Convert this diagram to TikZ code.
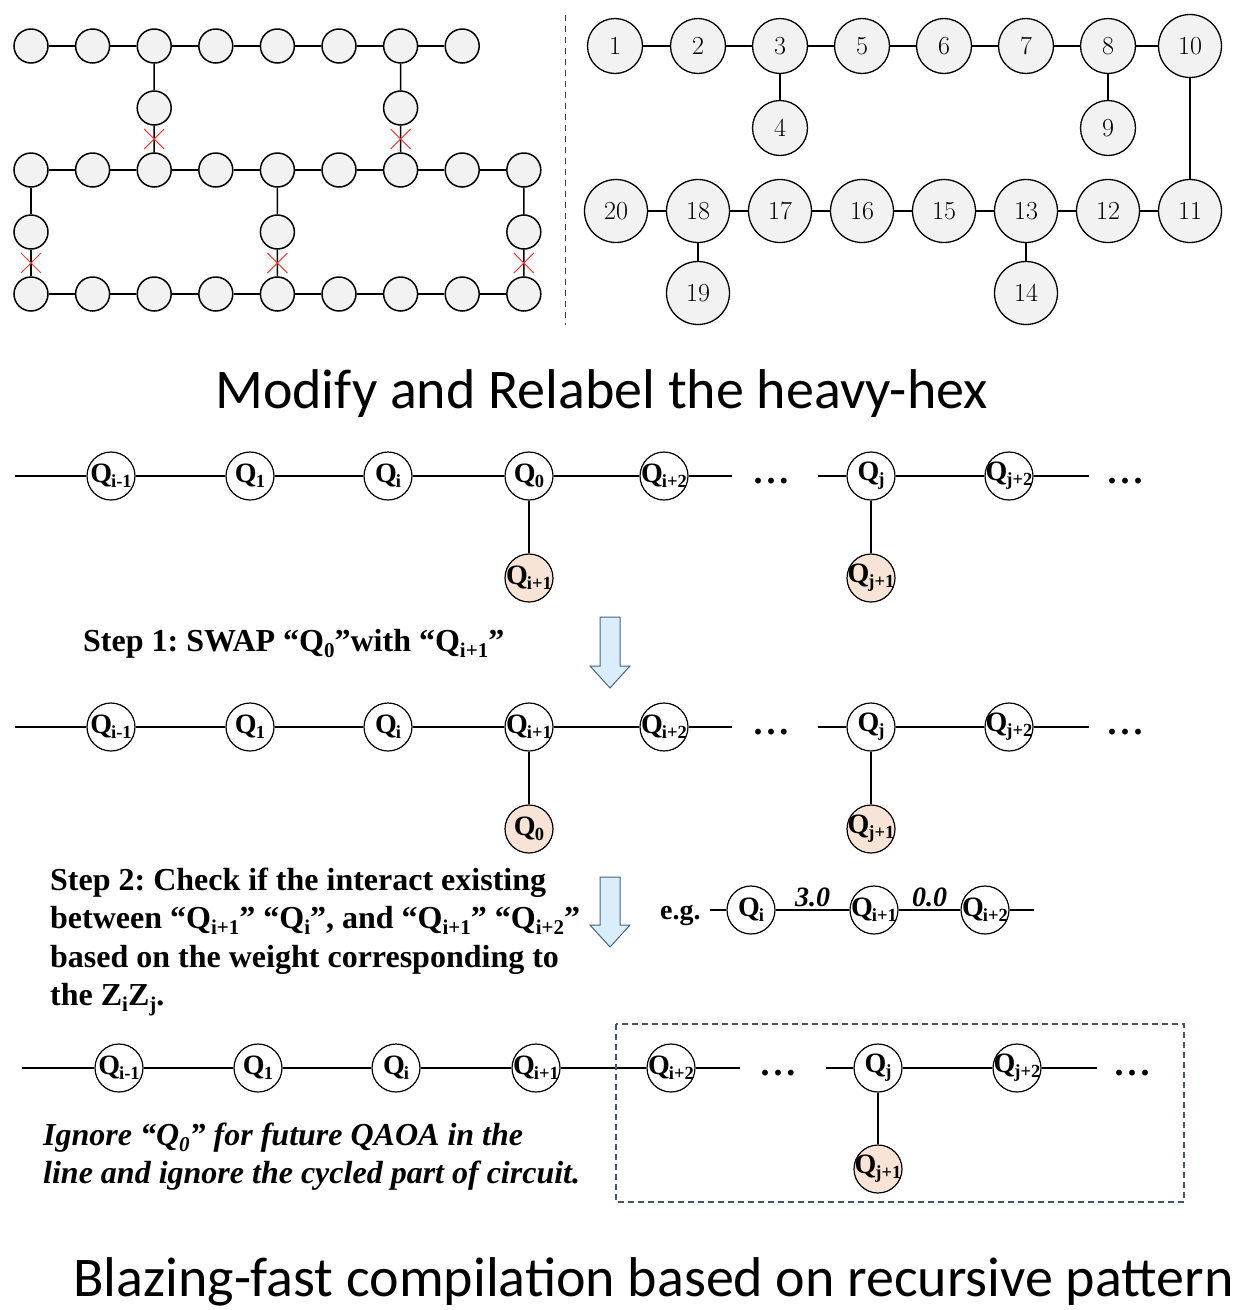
\documentclass[tikz,border=0pt]{standalone}
\usepackage{fontspec}
\newfontfamily\tnr{Liberation Serif}
\newfontfamily\calfont{Carlito}
\usetikzlibrary{calc,shapes.misc}
\frenchspacing
\definecolor{hexgray}{RGB}{242,242,242}
\definecolor{peach}{RGB}{248,228,214}
\definecolor{arrfill}{RGB}{218,237,250}
\definecolor{arrdraw}{RGB}{72,100,128}
\definecolor{boxdash}{RGB}{68,84,106}
\definecolor{xred}{RGB}{232,64,58}
\newcommand\Ql[1]{\makebox[0pt]{Q\kern-1pt\raisebox{-5pt}{\fontsize{18.5}{18.5}\selectfont #1}}}
\newcommand\Sa[1]{\raisebox{-6pt}{\fontsize{21}{21}\selectfont #1}}
\tikzset{
  hexn/.style={circle, draw=black, fill=hexgray, line width=1.5pt, minimum size=34pt, inner sep=0pt},
  numn/.style={circle, draw=black, fill=hexgray, line width=1.3pt, minimum size=55pt, inner sep=0pt, font=\fontsize{26}{26}\selectfont},
  numw/.style={numn, minimum size=63pt},
  qn/.style={circle, draw=black, fill=white, line width=1.2pt, minimum size=48pt, inner sep=0pt, font=\tnr\bfseries\fontsize{28}{28}\selectfont},
  qp/.style={qn, fill=peach},
  hedge/.style={line width=1.5pt},
  qedge/.style={line width=1.2pt},
  xmark/.style={cross out, draw=xred, line width=1pt, minimum size=19pt, inner sep=0pt},
  steptxt/.style={anchor=base west, inner sep=0pt, font=\tnr\bfseries\fontsize{32}{32}\selectfont},
  itxt/.style={anchor=base west, inner sep=0pt, font=\tnr\bfseries\itshape\fontsize{32}{32}\selectfont},
  dots/.style={anchor=base, inner sep=0pt, font=\tnr\bfseries\fontsize{36}{36}\selectfont},
  wlab/.style={anchor=base, inner sep=0pt, font=\tnr\bfseries\itshape\fontsize{28}{28}\selectfont},
  title/.style={anchor=base, inner sep=0pt, font=\calfont\fontsize{56}{60}\selectfont},
  bigarrow/.style={draw=arrdraw, fill=arrfill, line width=1pt, line join=miter}
}
\newcommand\tdots{.\kern4pt.\kern4pt.}
\begin{document}
\begin{tikzpicture}[x=1pt,y=-1pt]
\path[use as bounding box] (0,0) rectangle (1238,1310);

% ---------- heavy-hex (top left) ----------
\foreach \c in {1,...,8} \node[hexn] (h1\c) at ({31+(\c-1)*61.6},46) {};
\foreach \c in {1,...,9} \node[hexn] (h2\c) at ({31+(\c-1)*61.6},170) {};
\foreach \c in {1,...,9} \node[hexn] (h3\c) at ({31+(\c-1)*61.6},294) {};
\node[hexn] (v1) at (154.2,108) {};
\node[hexn] (v2) at (400.6,108) {};
\node[hexn] (v3) at (31,232) {};
\node[hexn] (v4) at (277.4,232) {};
\node[hexn] (v5) at (523.8,232) {};
\foreach \c [count=\n from 2] in {1,...,7} \draw[hedge] (h1\c) -- (h1\n);
\foreach \c [count=\n from 2] in {1,...,8} \draw[hedge] (h2\c) -- (h2\n);
\foreach \c [count=\n from 2] in {1,...,8} \draw[hedge] (h3\c) -- (h3\n);
\draw[hedge] (h13) -- (v1) -- (h23);
\draw[hedge] (h17) -- (v2) -- (h27);
\draw[hedge] (h21) -- (v3) -- (h31);
\draw[hedge] (h25) -- (v4) -- (h35);
\draw[hedge] (h29) -- (v5) -- (h39);
\node[xmark] (x1) at ($(v1)!0.5!(h23)$) {};
\node[xmark] (x2) at ($(v2)!0.5!(h27)$) {};
\node[xmark] (x3) at ($(v3)!0.5!(h31)$) {};
\node[xmark] (x4) at ($(v4)!0.5!(h35)$) {};
\node[xmark] (x5) at ($(v5)!0.5!(h39)$) {};

% separator
\coordinate (sepA) at (565,15);
\coordinate (sepB) at (565,325);
\draw[black!75, line width=1pt, dash pattern=on 6pt off 5pt] (sepA) -- (sepB);

% ---------- relabeled graph (top right) ----------
\node[numn] (n1) at (615,46) {1};
\node[numn] (n2) at (698,46) {2};
\node[numn] (n3) at (780,46) {3};
\node[numn] (n5) at (862,46) {5};
\node[numn] (n6) at (944,46) {6};
\node[numn] (n7) at (1026,46) {7};
\node[numn] (n8) at (1108,46) {8};
\node[numw] (n10) at (1190,46) {10};
\node[numn] (n4) at (780,128) {4};
\node[numn] (n9) at (1108,128) {9};
\node[numw] (n20) at (616,211) {20};
\node[numw] (n18) at (698,211) {18};
\node[numw] (n17) at (780,211) {17};
\node[numw] (n16) at (862,211) {16};
\node[numw] (n15) at (944,211) {15};
\node[numw] (n13) at (1026,211) {13};
\node[numw] (n12) at (1108,211) {12};
\node[numw] (n11) at (1190,211) {11};
\node[numw] (n19) at (698,293) {19};
\node[numw] (n14) at (1026,293) {14};
\draw[hedge] (n1) -- (n2) -- (n3) -- (n5) -- (n6) -- (n7) -- (n8) -- (n10) -- (n11) -- (n12) -- (n13) -- (n15) -- (n16) -- (n17) -- (n18) -- (n20);
\draw[hedge] (n3) -- (n4);
\draw[hedge] (n8) -- (n9);
\draw[hedge] (n18) -- (n19);
\draw[hedge] (n13) -- (n14);

\node[title] (t1) at (601.5,408) {Modify and Relabel the heavy-hex};

% ---------- row 1 ----------
\coordinate (a0) at (15,476);
\node[qn] (a1) at (111,476) {\Ql{i-1}};
\node[qn] (a2) at (250,476) {\Ql{1}};
\node[qn] (a3) at (388,476) {\Ql{i}};
\node[qn] (a4) at (529,476) {\Ql{0}};
\node[qn] (a5) at (664,476) {\Ql{i+2}};
\coordinate (ae1) at (732,476);
\node[dots] (ad1) at (771,483) {\tdots};
\coordinate (as2) at (818,476);
\node[qn] (a6) at (871,476) {\Ql{j}};
\node[qn] (a7) at (1009,476) {\Ql{j+2}};
\coordinate (ae2) at (1089,476);
\node[dots] (ad2) at (1125,483) {\tdots};
\node[qp] (a8) at (529,578) {\Ql{i+1}};
\node[qp] (a9) at (871,578) {\Ql{j+1}};
\draw[qedge] (a0) -- (a1) -- (a2) -- (a3) -- (a4) -- (a5) -- (ae1);
\draw[qedge] (as2) -- (a6) -- (a7) -- (ae2);
\draw[qedge] (a4) -- (a8);
\draw[qedge] (a6) -- (a9);

% step 1
\node[steptxt] (s1) at (83,651) {Step 1: SWAP “Q\Sa{0}”with “Q\Sa{i+1}”};
\draw[bigarrow] (600,617) -- (620,617) -- (620,666) -- (630,666) -- (610,688) -- (590,666) -- (600,666) -- cycle;

% ---------- row 2 ----------
\coordinate (b0) at (15,727);
\node[qn] (b1) at (111,727) {\Ql{i-1}};
\node[qn] (b2) at (250,727) {\Ql{1}};
\node[qn] (b3) at (388,727) {\Ql{i}};
\node[qn] (b4) at (529,727) {\Ql{i+1}};
\node[qn] (b5) at (664,727) {\Ql{i+2}};
\coordinate (be1) at (732,727);
\node[dots] (bd1) at (771,734) {\tdots};
\coordinate (bs2) at (818,727);
\node[qn] (b6) at (871,727) {\Ql{j}};
\node[qn] (b7) at (1009,727) {\Ql{j+2}};
\coordinate (be2) at (1089,727);
\node[dots] (bd2) at (1125,734) {\tdots};
\node[qp] (b8) at (529,829) {\Ql{0}};
\node[qp] (b9) at (871,829) {\Ql{j+1}};
\draw[qedge] (b0) -- (b1) -- (b2) -- (b3) -- (b4) -- (b5) -- (be1);
\draw[qedge] (bs2) -- (b6) -- (b7) -- (be2);
\draw[qedge] (b4) -- (b8);
\draw[qedge] (b6) -- (b9);

% step 2
\node[steptxt] (s2a) at (50,890) {Step 2: Check if the interact existing};
\node[steptxt] (s2b) at (50,928.5) {between “Q\Sa{i+1}” “Q\Sa{i}”, and “Q\Sa{i+1}” “Q\Sa{i+2}”};
\node[steptxt] (s2c) at (50,967) {based on the weight corresponding to};
\node[steptxt] (s2d) at (50,1005.5) {the Z\Sa{i}Z\Sa{j}.};
\draw[bigarrow] (600,877) -- (620,877) -- (620,925) -- (630,925) -- (610,947) -- (590,925) -- (600,925) -- cycle;

% e.g.
\node[steptxt, font=\tnr\bfseries\fontsize{28}{28}\selectfont] (eg) at (660,919) {e.g.};
\coordinate (e0) at (710,910);
\node[qn] (e1) at (751,910) {\Ql{i}};
\node[qn] (e2) at (874,910) {\Ql{i+1}};
\node[qn] (e3) at (985,910) {\Ql{i+2}};
\coordinate (e4) at (1034,910);
\draw[qedge] (e0) -- (e1) -- node[wlab, pos=0.5, yshift=4pt] (w1) {3.0} (e2) -- node[wlab, pos=0.5, yshift=4pt] (w2) {0.0} (e3) -- (e4);

% ---------- row 3 ----------
\coordinate (c0) at (22,1068);
\node[qn] (c1) at (119,1068) {\Ql{i-1}};
\node[qn] (c2) at (258,1068) {\Ql{1}};
\node[qn] (c3) at (396,1068) {\Ql{i}};
\node[qn] (c4) at (536,1068) {\Ql{i+1}};
\node[qn] (c5) at (671,1068) {\Ql{i+2}};
\coordinate (ce1) at (740,1068);
\node[dots] (cd1) at (778,1075) {\tdots};
\coordinate (cs2) at (826,1068);
\node[qn] (c6) at (878,1068) {\Ql{j}};
\node[qn] (c7) at (1017,1068) {\Ql{j+2}};
\coordinate (ce2) at (1097,1068);
\node[dots] (cd2) at (1132,1075) {\tdots};
\node[qp] (c8) at (878,1169) {\Ql{j+1}};
\draw[qedge] (c0) -- (c1) -- (c2) -- (c3) -- (c4) -- (c5) -- (ce1);
\draw[qedge] (cs2) -- (c6) -- (c7) -- (ce2);
\draw[qedge] (c6) -- (c8);
\draw[boxdash, line width=1.2pt, dash pattern=on 6pt off 4pt] (616,1024) rectangle (1184,1202);

\node[itxt] (ig1) at (43,1145) {Ignore “Q\Sa{0}” for future QAOA in the};
\node[itxt] (ig2) at (43,1183) {line and ignore the cycled part of circuit.};

\node[title] (t2) at (653.5,1296) {Blazing-fast compilation based on recursive pattern};
\end{tikzpicture}
\end{document}
